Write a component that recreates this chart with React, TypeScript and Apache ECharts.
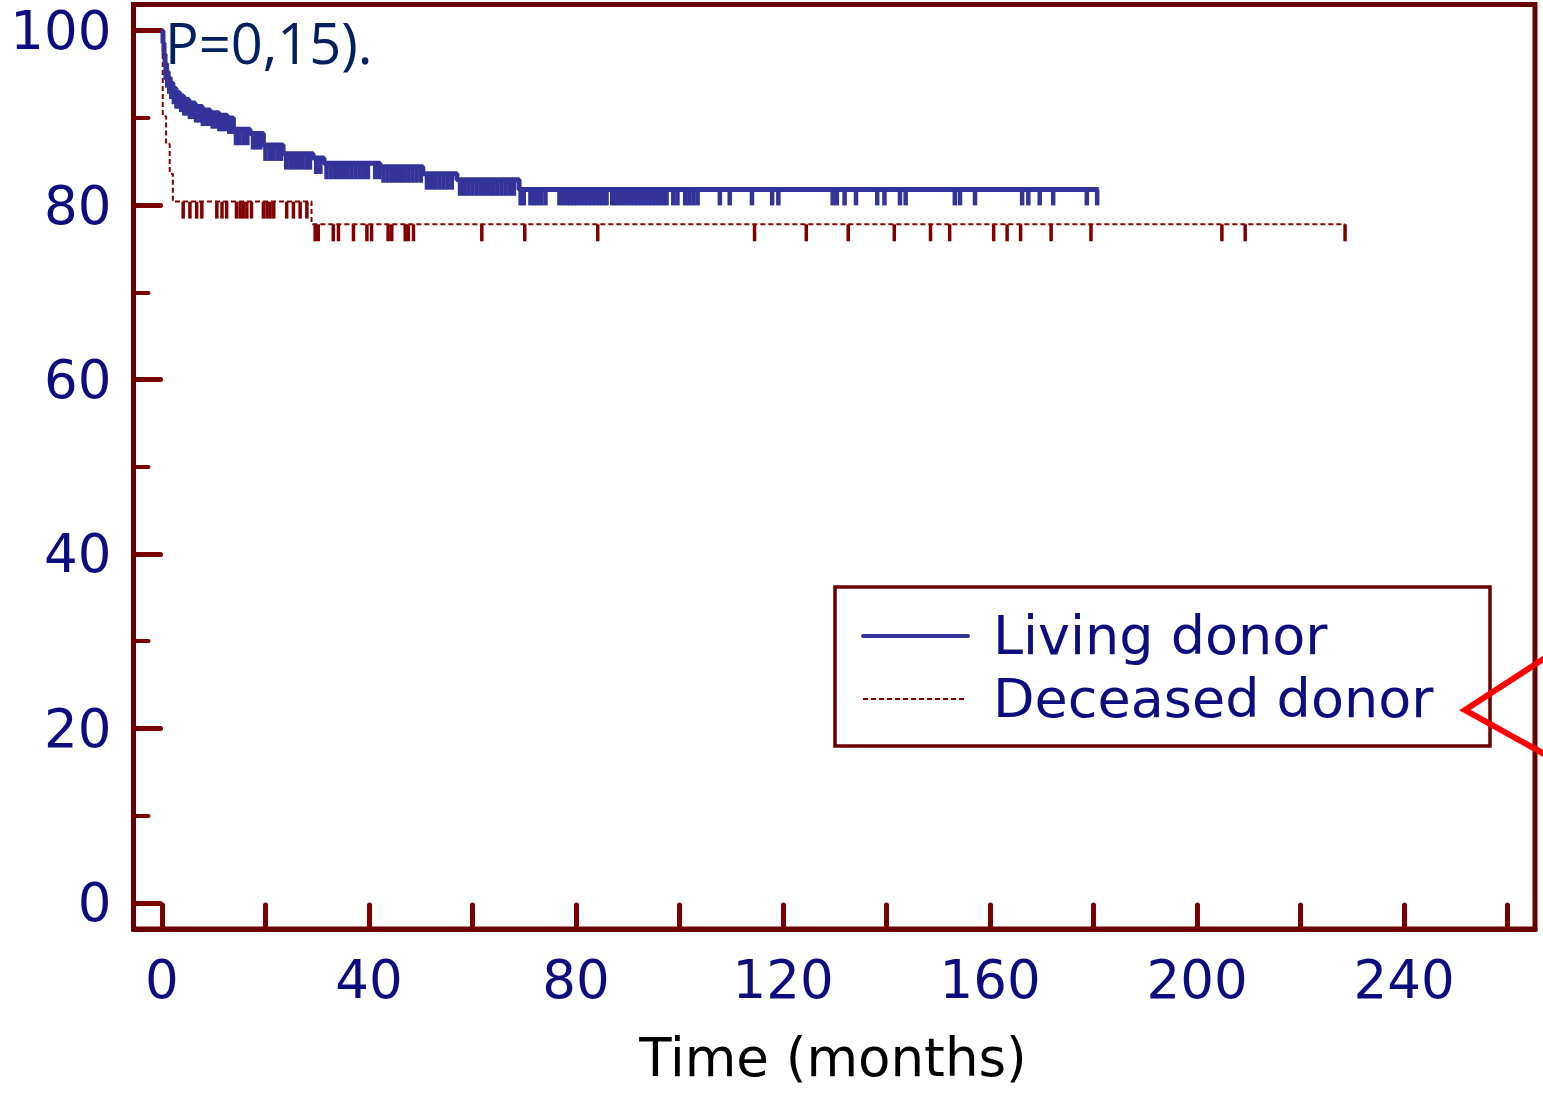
import React, { useEffect, useRef } from "react";
import * as echarts from "echarts";

// Kaplan-Meier steps (months, survival %)
const livingTimes = [0, 0.2, 0.4, 0.6, 0.9, 1.2, 1.6, 2.1, 2.7, 3.4, 4.2, 5.2, 6.4, 7.8, 9.3, 11.0, 12.6, 13.8, 17.0, 19.6, 23.4, 29.2, 31.3, 42.1, 50.4, 57.0, 69.0, 181.0];
const livingSurv = [100, 98.6, 97.3, 96.2, 95.3, 94.6, 94.0, 93.4, 92.9, 92.5, 92.1, 91.7, 91.3, 90.9, 90.6, 90.3, 90.0, 88.7, 88.2, 86.9, 85.9, 85.4, 84.8, 84.4, 83.6, 82.9, 81.8, 81.8];

const deceasedTimes = [0, 0.15, 0.8, 1.5, 2.1, 28.9, 228.6];
const deceasedSurv = [100, 90.2, 87.0, 83.6, 80.4, 77.8, 77.8];

// Censoring times (months)
const livingCensor = [
  0.7, 1.0, 1.4, 1.8, 2.3, 2.8, 3.2, 3.7, 4.3, 4.8, 5.4, 6.0, 6.6, 7.2, 7.9, 8.5, 9.1, 9.8, 10.4, 11.1, 11.7, 12.3, 13.0, 13.5,
  14.3, 15.0, 15.8, 16.5, 17.6, 18.3, 19.0, 20.0, 20.8, 21.5, 22.3, 23.0, 24.0, 24.8, 25.5, 26.3, 27.1, 27.9, 28.6, 29.8, 30.6,
  31.8, 32.6, 33.4, 34.2, 35.0, 35.8, 36.6, 37.4, 38.2, 39.0, 39.8, 41.2, 42.0, 42.8, 43.6, 44.4, 45.2, 46.0, 46.8, 47.6, 48.4,
  49.2, 50.0, 51.2, 52.0, 52.8, 53.6, 54.4, 55.2, 56.0, 57.6, 58.4, 59.2, 60.0, 60.8, 61.6, 62.4, 63.2, 64.0, 64.8, 65.6, 66.4,
  67.2, 68.0, 69.3, 69.9, 71.2, 71.9, 72.6, 73.3, 74.1, 76.8, 77.5, 78.2, 78.9, 79.6, 80.3, 81.0, 81.7, 82.4, 83.1, 83.8, 84.5,
  85.2, 85.9, 87.0, 87.7, 88.4, 89.1, 89.8, 90.5, 91.2, 91.9, 92.6, 93.3, 94.0, 94.7, 95.4, 96.1, 96.8, 97.5, 98.8, 99.6, 101.1,
  101.9, 102.7, 103.5, 107.8, 109.7, 114.0, 117.9, 119.1, 129.6, 130.4, 131.9, 134.1, 138.2, 139.6, 142.6, 143.7, 153.2, 154.2,
  157.1, 166.2, 167.4, 169.6, 172.2, 178.7, 180.7,
];
const deceasedCensor = [
  4.1, 5.4, 6.7, 7.7, 10.6, 11.6, 12.5, 14.4, 15.1, 15.7, 16.4, 17.3, 19.6, 20.3, 20.9, 21.6, 24.1, 25.4, 26.7, 28.0,
  29.6, 30.2, 33.1, 34.1, 37.0, 39.6, 40.5, 43.7, 44.4, 47.0, 47.6, 48.6, 61.8, 70.1, 84.2, 114.5, 124.5, 132.6, 141.5,
  148.5, 152.2, 160.7, 163.3, 165.9, 171.8, 179.5, 204.8, 209.3, 228.6,
];

const xTickValues = [0, 20, 40, 60, 80, 100, 120, 140, 160, 180, 200, 220, 240, 260];
const xLabelValues = [0, 40, 80, 120, 160, 200, 240];
const yLabelValues = [0, 20, 40, 60, 80, 100];
const yMinorValues = [10, 30, 50, 70, 90];

const seriesNames = ["Living donor", "Deceased donor"];
const xAxisTitle = "Time (months)";
const pValueText = "P=0,15).";

function survAt(times: number[], surv: number[], t: number): number {
  let v = surv[0];
  for (let i = 0; i < times.length; i++) {
    if (times[i] <= t) v = surv[i];
  }
  return v;
}

const AXIS = "#6b0000";
const TICK = "#780000";
const NAVY = "#0d0d80";
const BLUE = "#333399";
const DRED = "#800000";
const FONT = "DejaVu Sans";

export default function App() {
  const ref = useRef<HTMLDivElement>(null);
  useEffect(() => {
    if (!ref.current) return;
    const chart = echarts.init(ref.current, null, { renderer: "svg" });
    const living = livingTimes.map((t, i) => [t, livingSurv[i]]);
    const deceased = deceasedTimes.map((t, i) => [t, deceasedSurv[i]]);
    const option: any = {
      animation: false,
      backgroundColor: "#ffffff",
      grid: {
        left: 133.5,
        right: 8,
        top: 4.5,
        bottom: 165,
        show: true,
        borderColor: AXIS,
        borderWidth: 5,
        backgroundColor: "transparent",
      },
      xAxis: [
        {
          type: "value",
          min: -5.5,
          max: 265.3,
          position: "bottom",
          splitLine: { show: false },
          axisLine: { show: true, onZero: false, lineStyle: { color: AXIS, width: 5 } },
          axisTick: {
            show: true,
            inside: true,
            length: 24,
            customValues: xTickValues,
            lineStyle: { color: TICK, width: 5, cap: "round" },
          },
          axisLabel: {
            customValues: xLabelValues,
            color: NAVY,
            fontSize: 53,
            fontFamily: FONT,
            margin: 24,
          },
        },
      ],
      yAxis: [
        {
          type: "value",
          min: -3,
          max: 103,
          position: "left",
          splitLine: { show: false },
          axisLine: { show: true, onZero: false, lineStyle: { color: AXIS, width: 5 } },
          axisTick: {
            show: true,
            inside: true,
            length: 27,
            customValues: yLabelValues,
            lineStyle: { color: TICK, width: 5, cap: "round" },
          },
          axisLabel: {
            customValues: yLabelValues,
            color: NAVY,
            fontSize: 53,
            fontFamily: FONT,
            margin: 22,
          },
        },
        {
          type: "value",
          min: -3,
          max: 103,
          position: "left",
          splitLine: { show: false },
          axisLine: { show: false, onZero: false },
          axisTick: {
            show: true,
            inside: true,
            length: 15,
            customValues: yMinorValues,
            lineStyle: { color: TICK, width: 4, cap: "round" },
          },
          axisLabel: { show: false },
        },
      ],
      series: [
        {
          type: "line",
          name: seriesNames[0],
          data: living,
          step: "end",
          symbol: "none",
          lineStyle: { color: BLUE, width: 5 },
          z: 4,
        },
        {
          type: "line",
          name: seriesNames[1],
          data: deceased,
          step: "end",
          symbol: "none",
          lineStyle: { color: DRED, width: 2, type: [5, 3] },
          z: 3,
        },
        {
          type: "scatter",
          data: livingCensor.map((t) => [t, survAt(livingTimes, livingSurv, t)]),
          symbol: "rect",
          symbolSize: [4.5, 16],
          symbolOffset: [0, 8],
          itemStyle: { color: BLUE, opacity: 1 },
          z: 4,
        },
        {
          type: "scatter",
          data: deceasedCensor.map((t) => [t, survAt(deceasedTimes, deceasedSurv, t)]),
          symbol: "rect",
          symbolSize: [3.5, 17],
          symbolOffset: [0, 8.5],
          itemStyle: { color: DRED, opacity: 1 },
          z: 3,
        },
      ],
      graphic: [
        {
          type: "text",
          left: 165,
          top: 14,
          style: { text: pValueText, fill: "#002060", fontSize: 56, fontFamily: "Open Sans" },
          z: 10,
        },
        {
          type: "text",
          x: 833,
          y: 1057,
          style: {
            text: xAxisTitle,
            fill: "#000000",
            fontSize: 53,
            fontFamily: FONT,
            align: "center",
            verticalAlign: "middle",
          },
        },
        {
          type: "rect",
          shape: { x: 835, y: 587, width: 655, height: 159 },
          style: { fill: "#ffffff", stroke: AXIS, lineWidth: 3.5 },
          z: 20,
        },
        {
          type: "line",
          shape: { x1: 863, y1: 636, x2: 968, y2: 636 },
          style: { stroke: BLUE, lineWidth: 4, lineCap: "round" },
          z: 21,
        },
        {
          type: "line",
          shape: { x1: 863, y1: 699, x2: 966, y2: 699 },
          style: { stroke: DRED, lineWidth: 2, lineDash: [5, 3] },
          z: 21,
        },
        {
          type: "text",
          x: 993,
          y: 635,
          style: { text: seriesNames[0], fill: NAVY, fontSize: 54, fontFamily: FONT, verticalAlign: "middle" },
          z: 21,
        },
        {
          type: "text",
          x: 993,
          y: 698,
          style: { text: seriesNames[1], fill: NAVY, fontSize: 54, fontFamily: FONT, verticalAlign: "middle" },
          z: 21,
        },
        {
          type: "polyline",
          shape: { points: [[1548, 656], [1465, 710], [1548, 756]] },
          style: { stroke: "#ff0000", lineWidth: 6, fill: "none" },
          z: 30,
        },
      ],
    };
    chart.setOption(option);
    return () => chart.dispose();
  }, []);
  return (
    <div
      ref={ref}
      style={{ position: "fixed", left: 0, top: 0, width: 1543, height: 1094, background: "#fff" }}
    />
  );
}
